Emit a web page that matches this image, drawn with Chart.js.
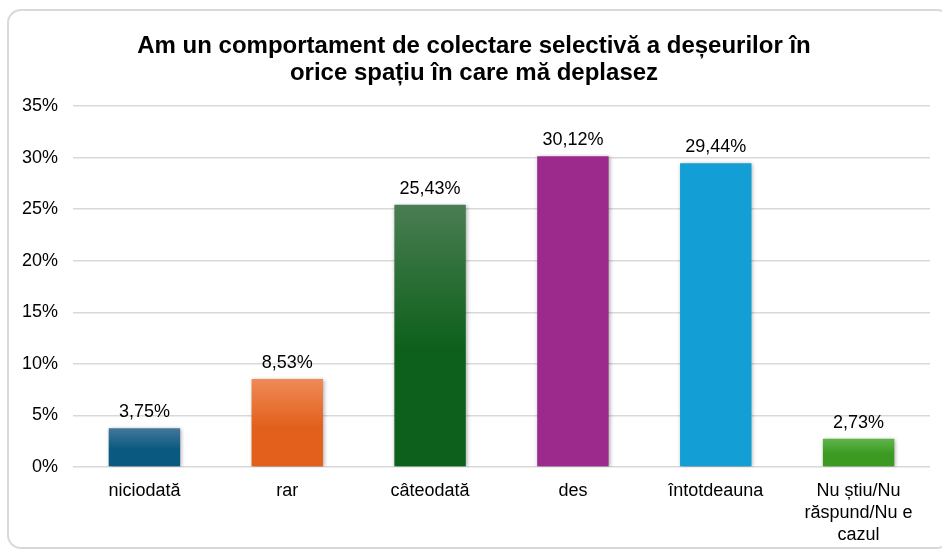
<!DOCTYPE html>
<html>
<head>
<meta charset="utf-8">
<script src="https://cdn.jsdelivr.net/npm/chart.js@4.4.1/dist/chart.umd.min.js"></script>
<style>
  html, body { margin:0; padding:0; background:#fff; }
  #wrap { position:relative; width:942px; height:549px; overflow:hidden; }
  #frame { position:absolute; left:7px; top:9px; width:940px; height:536px; border:2px solid #d9d9d9; border-radius:14px; }
  canvas { position:absolute; left:0; top:0; }
</style>
</head>
<body>
<div id="wrap">
  <div id="frame"></div>
  <canvas id="grafic" width="942" height="549"></canvas>
</div>
<script>
// ---- date
const titlu = ["Am un comportament de colectare selectivă a deșeurilor în", "orice spațiu în care mă deplasez"];
const categorii = ["niciodată", "rar", "câteodată", "des", "întotdeauna", ["Nu știu/Nu", "răspund/Nu e", "cazul"]];
const valori = [3.75, 8.53, 25.43, 30.12, 29.44, 2.73];
const culoriSus = ["#44789b", "#ef8a58", "#4a7d53", "#9c2a8c", "#139fd6", "#5fb54a"];
const culoriJos = ["#0a5980", "#e2601b", "#0d601b", "#9c2a8c", "#139fd6", "#3c9a22"];

const FONT = "'Liberation Sans', Arial, sans-serif";

// gradient pe fiecare bara + umbra
const pluginBare = {
    id: "bare",
    beforeDatasetsDraw(chart) {
        const ctx = chart.ctx;
        chart.getDatasetMeta(0).data.forEach((el, i) => {
            const g = ctx.createLinearGradient(0, el.y, 0, el.base);
            g.addColorStop(0, culoriSus[i]);
            g.addColorStop(0.55, culoriJos[i]);
            g.addColorStop(1, culoriJos[i]);
            el.options.backgroundColor = g;
        });
        ctx.save();
        ctx.shadowColor = "rgba(0,0,0,0.35)";
        ctx.shadowBlur = 4;
        ctx.shadowOffsetX = 1;
        ctx.shadowOffsetY = 1;
    },
    afterDatasetsDraw(chart) {
        const ctx = chart.ctx;
        ctx.restore();
        // etichete valori
        ctx.save();
        ctx.font = "18px " + FONT;
        ctx.fillStyle = "#000";
        ctx.textAlign = "center";
        ctx.textBaseline = "bottom";
        chart.getDatasetMeta(0).data.forEach((el, i) => {
            ctx.fillText(valori[i].toFixed(2).replace(".", ",") + "%", el.x, el.y - 7);
        });
        ctx.restore();
    }
};

// titlu
const pluginTitlu = {
    id: "titlu",
    afterDraw(chart) {
        const ctx = chart.ctx;
        ctx.save();
        ctx.font = "bold 24px " + FONT;
        ctx.fillStyle = "#000";
        ctx.textAlign = "center";
        ctx.textBaseline = "middle";
        ctx.fillText(titlu[0], 474, 46);
        ctx.fillText(titlu[1], 474, 73);
        ctx.restore();
    }
};

new Chart(document.getElementById("grafic"), {
    type: "bar",
    data: {
        labels: categorii,
        datasets: [{
            label: "Procent",
            data: valori,
            backgroundColor: culoriJos,
            borderWidth: 0,
            categoryPercentage: 1,
            barPercentage: 0.5
        }]
    },
    options: {
        responsive: false,
        animation: false,
        layout: { padding: { top: 106, right: 12, left: 0, bottom: 0 } },
        plugins: {
            legend: { display: false },
            tooltip: { enabled: false }
        },
        scales: {
            y: {
                min: 0,
                max: 35,
                ticks: {
                    stepSize: 5,
                    padding: 15,
                    color: "#000",
                    font: { size: 18, family: FONT },
                    callback: v => v + "%"
                },
                grid: { color: "#d9d9d9", lineWidth: 1.5, drawTicks: false },
                border: { display: false },
                afterFit(scale) { scale.width = 73; }
            },
            x: {
                ticks: {
                    padding: 13,
                    color: "#000",
                    maxRotation: 0,
                    font: { size: 18, family: FONT, lineHeight: 1.22 }
                },
                grid: { display: false, drawTicks: false },
                border: { display: false },
                afterFit(scale) { scale.height = 82; }
            }
        }
    },
    plugins: [pluginBare, pluginTitlu]
});
</script>
</body>
</html>
